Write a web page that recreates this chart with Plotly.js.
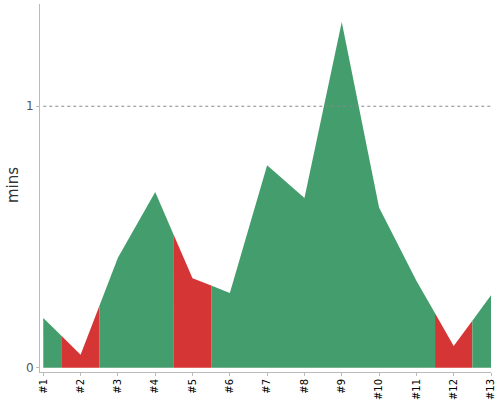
<!DOCTYPE html>
<html>
<head>
<meta charset="utf-8">
<script src="https://cdn.plot.ly/plotly-3.0.1.min.js"></script>
<style>html,body{margin:0;padding:0;background:#fff;}#chart{width:500px;height:400px;}</style>
</head>
<body>
<div id="chart"></div>
<script>
const categories = ['#1','#2','#3','#4','#5','#6','#7','#8','#9','#10','#11','#12','#13'];
const values = [0.19, 0.05, 0.421, 0.672, 0.342, 0.286, 0.774, 0.649, 1.322, 0.613, 0.333, 0.083, 0.277];
const status = ['ok','bad','ok','ok','bad','ok','ok','ok','ok','ok','ok','bad','ok'];
const threshold = 1;
const yTitle = 'mins';

const colors = {ok: '#449d6c', bad: '#d63535'};
const n = categories.length;
const pos = categories.map((c, i) => i + 1);

function valAt(x) {
  const i = Math.floor(x) - 1;
  if (i >= n - 1) return values[n - 1];
  const f = x - Math.floor(x);
  return values[i] + (values[i + 1] - values[i]) * f;
}

const traces = [];
let start = 0;
for (let i = 1; i <= n; i++) {
  if (i === n || status[i] !== status[start]) {
    const xs = [], ys = [];
    const x0 = Math.max(1, pos[start] - 0.5);
    const x1 = Math.min(n, pos[i - 1] + 0.5);
    xs.push(x0); ys.push(valAt(x0));
    for (let k = start; k < i; k++) { xs.push(pos[k]); ys.push(values[k]); }
    xs.push(x1); ys.push(valAt(x1));
    traces.push({
      x: xs, y: ys, type: 'scatter', mode: 'lines', fill: 'tozeroy',
      line: {width: 0, color: colors[status[start]]},
      fillcolor: colors[status[start]], hoverinfo: 'skip', showlegend: false
    });
    start = i;
  }
}

const layout = {
  width: 500, height: 400,
  margin: {l: 40, r: 9, t: 4, b: 28},
  paper_bgcolor: '#fff', plot_bgcolor: '#fff',
  font: {family: 'DejaVu Sans, sans-serif'},
  showlegend: false,
  xaxis: {
    range: [0.912, 13.0], tickmode: 'array', tickvals: pos, ticktext: categories,
    tickangle: -90, ticks: 'outside', ticklen: 3, tickcolor: '#bbb', ticklabelstandoff: -1,
    showline: true, linecolor: '#bbb', linewidth: 1, showgrid: false, zeroline: false,
    tickfont: {size: 10, color: '#000', family: 'DejaVu Sans, sans-serif'}, fixedrange: true
  },
  yaxis: {
    range: [-0.0164, 1.391], tickmode: 'array', tickvals: [0, 1], ticktext: ['0', '1'],
    ticks: 'outside', ticklen: 3, tickcolor: '#bbb',
    showline: true, linecolor: '#bbb', linewidth: 1, showgrid: false, zeroline: false,
    tickfont: {size: 12, color: '#555'}, fixedrange: true
  },
  annotations: [{
    text: yTitle, textangle: -90, showarrow: false,
    xref: 'paper', yref: 'paper', x: 0, y: 0.508, xanchor: 'center', yanchor: 'middle',
    xshift: -27, font: {size: 15, color: '#333'}
  }],
  shapes: [{
    type: 'line', xref: 'x', yref: 'y', x0: 1, x1: 13, y0: threshold, y1: threshold,
    line: {color: '#888', width: 1, dash: 'dot'}, layer: 'above'
  }]
};

Plotly.newPlot('chart', traces, layout, {displayModeBar: false, staticPlot: true});
</script>
</body>
</html>
